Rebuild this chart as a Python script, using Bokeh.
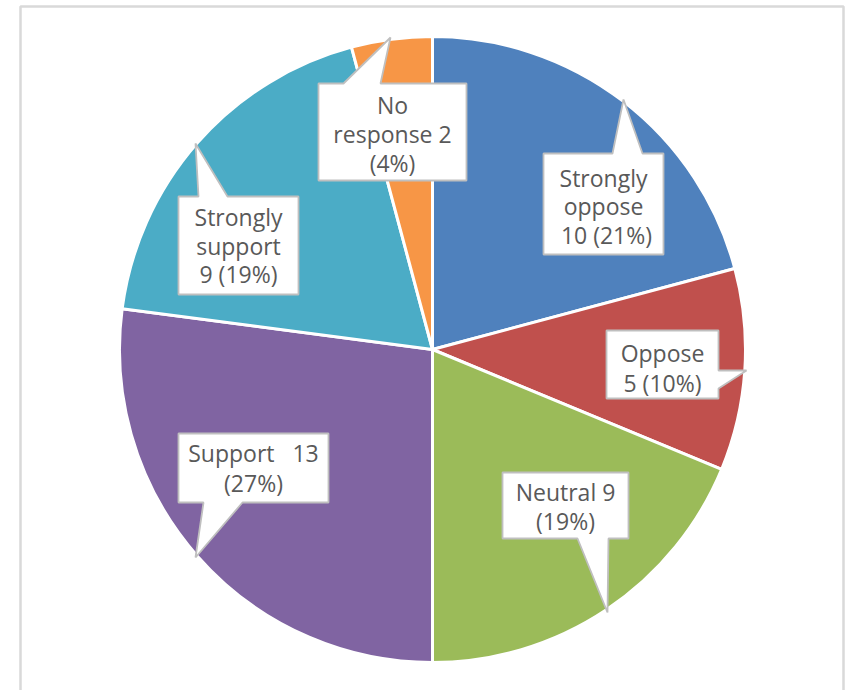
import math
from bokeh.plotting import figure
from bokeh.models import Range1d
from bokeh.core.properties import value
from bokeh.embed import file_html
from bokeh.resources import INLINE

# ---- data ----
categories = ["Strongly oppose", "Oppose", "Neutral", "Support", "Strongly support", "No response"]
counts = [10, 5, 9, 13, 9, 2]
colors = ["#4F81BD", "#C0504D", "#9BBB59", "#8064A2", "#4BACC6", "#F79646"]
NB = "\u00a0"
label_templates = [
    ["Strongly", "oppose", NB + "{v} ({p}%)"],
    ["Oppose", "{v} ({p}%)"],
    ["Neutral {v}", "({p}%)"],
    ["Support" + NB * 3 + "{v}", "({p}%)"],
    ["Strongly", "support", "{v} ({p}%)"],
    ["No", "response {v}", "({p}%)"],
]

# ---- layout (screen pixel positions) ----
W, H = 846, 690
X0, Y0 = 0, 0


def sy(y):              # screen y -> data y
    return (Y0 + H) - y


CX, CY, R = 432, 349, 313

callouts = [
    dict(box=(543, 153, 663, 254), side="top", ptr=[(612, 153), (623, 99), (642, 153)], ys=[177, 205, 234]),
    dict(box=(606, 330, 718, 398), side="right", ptr=[(718, 370), (746, 370), (718, 388)], ys=[352, 382]),
    dict(box=(502, 472, 628, 538), side="bottom", ptr=[(608, 538), (607, 612), (577, 538)], ys=[491, 520]),
    dict(box=(178, 433, 328, 502), side="bottom", ptr=[(242, 502), (195, 557), (203, 502)], ys=[452, 482]),
    dict(box=(178, 196, 298, 294), side="top", ptr=[(198, 196), (195, 143), (227, 196)], ys=[216, 245, 273]),
    dict(box=(318, 83, 466, 180), side="top", ptr=[(343, 83), (390, 37), (380, 83)], ys=[104, 133, 162]),
]

p = figure(width=W, height=H, output_backend="svg", toolbar_location=None,
           x_range=Range1d(X0, X0 + W), y_range=Range1d(0, H),
           min_border=0, outline_line_color=None)
p.axis.visible = False
p.grid.visible = False
p.background_fill_color = "white"
p.border_fill_color = "white"

# outer frame
frame_col = "#D9D9D9"
p.line([20, 20, 843, 843], [sy(700), sy(6), sy(6), sy(700)], line_color=frame_col, line_width=2.5)

# pie wedges
total = sum(counts)
cum = 0
starts, ends = [], []
for c in counts:
    a0 = math.pi / 2 - 2 * math.pi * cum / total
    cum += c
    a1 = math.pi / 2 - 2 * math.pi * cum / total
    starts.append(a0)
    ends.append(a1)
p.wedge(x=[CX] * len(counts), y=[sy(CY)] * len(counts), radius=R,
        start_angle=starts, end_angle=ends, direction="clock",
        fill_color=colors, line_color="white", line_width=3)

# callouts
for i, (cat, v, cl) in enumerate(zip(categories, counts, callouts)):
    l, t, r, b = cl["box"]
    side = cl["side"]
    ptr = cl["ptr"]
    if side == "top":
        pts = [(l, t)] + ptr + [(r, t), (r, b), (l, b)]
    elif side == "right":
        pts = [(l, t), (r, t)] + ptr + [(r, b), (l, b)]
    else:  # bottom
        pts = [(l, t), (r, t), (r, b)] + ptr + [(l, b)]
    xs = [q[0] for q in pts]
    ys = [sy(q[1]) for q in pts]
    p.patch(xs, ys, fill_color="white", line_color="#BFBFBF", line_width=1.8)
    pct = round(100 * v / total)
    lines = [s.format(v=v, p=pct) for s in label_templates[i]]
    cx = (l + r) / 2
    p.text(x=[cx] * len(lines), y=[sy(y) for y in cl["ys"]], text=lines,
           text_align="center", text_baseline="middle",
           text_font=value("Open Sans"), text_font_size="23px", text_color="#595959")

open("out.html", "w").write(file_html(p, INLINE))
